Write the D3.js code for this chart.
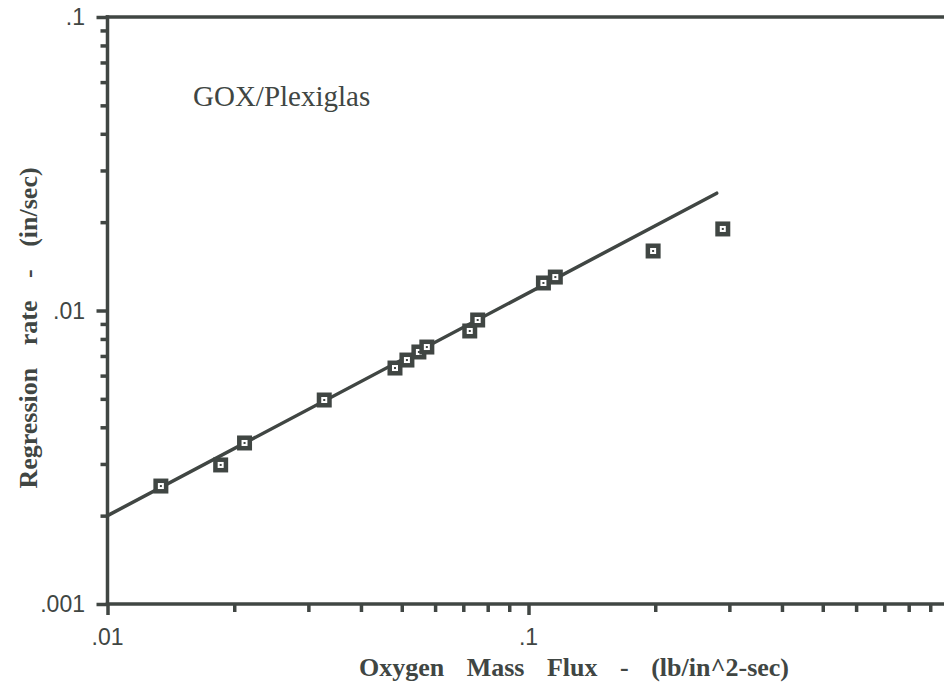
<!DOCTYPE html>
<html>
<head>
<meta charset="utf-8">
<script src="https://cdn.jsdelivr.net/npm/d3@7"></script>
<style>
  body { margin: 0; background: #fff; }
  svg { display: block; }
</style>
</head>
<body>
<svg width="944" height="691"></svg>
<script>
// GOX/Plexiglas regression rate vs oxygen mass flux (log-log)

// measured points
const massFlux = [0.01339, 0.01857, 0.02116, 0.03272, 0.04818, 0.05143, 0.05491, 0.05735,
                  0.07252, 0.07573, 0.1085, 0.1158, 0.1977, 0.2894];
const regRate  = [0.002523, 0.002977, 0.003537, 0.004955, 0.006368, 0.006780, 0.007222, 0.007508,
                  0.008516, 0.009282, 0.01241, 0.01300, 0.01595, 0.01896];
// fitted power-law line (end points)
const fitFlux = [0.01, 0.28];
const fitRate = [0.002, 0.0251];

// tick values
const xMajor = [0.01, 0.1, 1];
const xMinor = [0.02, 0.03, 0.04, 0.05, 0.06, 0.07, 0.08, 0.09, 0.2, 0.3, 0.4, 0.5, 0.6, 0.7, 0.8, 0.9];
const yMajor = [0.001, 0.01, 0.1];
const yMinor = [0.002, 0.003, 0.004, 0.005, 0.006, 0.007, 0.008, 0.009, 0.02, 0.03, 0.04, 0.05, 0.06, 0.07, 0.08, 0.09];
const xLabels = ['.01', '.1', '1'];
const yLabels = ['.001', '.01', '.1'];

const ink = '#404643';
const svg = d3.select('svg');

const x = d3.scaleLog().domain([0.01, 1]).range([107.5, 949.5]);
const y = d3.scaleLog().domain([0.001, 0.1]).range([604, 17]);

// frame: left axis, bottom axis, top line
const frame = svg.append('g')
  .attr('stroke', ink)
  .attr('stroke-width', 3.5)
  .attr('stroke-linecap', 'square');
frame.append('line').attr('x1', x(0.01)).attr('x2', x(0.01)).attr('y1', y(0.1)).attr('y2', y(0.001));
frame.append('line').attr('x1', x(0.01)).attr('x2', 944).attr('y1', y(0.001)).attr('y2', y(0.001));
frame.append('line').attr('x1', x(0.01)).attr('x2', 944).attr('y1', y(0.1)).attr('y2', y(0.1));

//ticks, minor and major
const xAxisMinor = d3.axisBottom(x).tickValues(xMinor).tickSize(8).tickFormat('');
const xAxisMajor = d3.axisBottom(x).tickValues(xMajor).tickSize(11).tickFormat('');
const yAxisMinor = d3.axisLeft(y).tickValues(yMinor).tickSize(7).tickFormat('');
const yAxisMajor = d3.axisLeft(y).tickValues(yMajor).tickSize(11).tickFormat('');

[[xAxisMinor, `translate(0,${y(0.001)})`], [xAxisMajor, `translate(0,${y(0.001)})`],
 [yAxisMinor, `translate(${x(0.01)},0)`], [yAxisMajor, `translate(${x(0.01)},0)`]].forEach(([ax, tr]) => {
  const g = svg.append('g').attr('transform', tr).call(ax);
  g.select('.domain').remove();
  g.selectAll('line').attr('stroke', ink).attr('stroke-width', 3.5);
});

// tick labels
svg.append('g').selectAll('text')
  .data(xMajor)
  .enter().append('text')
  .attr('x', d => x(d))
  .attr('y', 645)
  .attr('text-anchor', 'middle')
  .attr('font-family', '"Liberation Sans", Arial, sans-serif')
  .attr('font-size', 23)
  .attr('fill', ink)
  .text((d, i) => xLabels[i]);

svg.append('g').selectAll('text')
  .data(yMajor)
  .enter().append('text')
  .attr('x', 85)
  .attr('y', d => y(d) + 8)
  .attr('text-anchor', 'end')
  .attr('font-family', '"Liberation Sans", Arial, sans-serif')
  .attr('font-size', 23)
  .attr('fill', ink)
  .text((d, i) => yLabels[i]);

// fit line
const line = d3.line().x(d => x(d[0])).y(d => y(d[1]));
svg.append('path')
  .datum(fitFlux.map((f, i) => [f, fitRate[i]]))
  .attr('d', line)
  .attr('fill', 'none')
  .attr('stroke', ink)
  .attr('stroke-width', 3.5)
  .attr('stroke-linecap', 'round');

// square markers with white centre
const pts = svg.append('g').selectAll('g')
  .data(massFlux.map((f, i) => [f, regRate[i]]))
  .enter().append('g')
  .attr('transform', d => `translate(${x(d[0])},${y(d[1])})`);
pts.append('rect').attr('x', -7.5).attr('y', -7.5).attr('width', 15).attr('height', 15).attr('fill', ink);
pts.append('rect').attr('x', -3).attr('y', -3).attr('width', 6).attr('height', 6).attr('fill', '#fff');
pts.append('rect').attr('x', -1).attr('y', -1).attr('width', 2).attr('height', 2).attr('fill', ink);

// annotation
svg.append('text')
  .attr('x', 193).attr('y', 106)
  .attr('font-family', '"Liberation Serif", "Times New Roman", serif')
  .attr('font-size', 29)
  .attr('fill', ink)
  .text('GOX/Plexiglas');

// axis titles
svg.append('text')
  .attr('x', 574).attr('y', 676)
  .attr('text-anchor', 'middle')
  .attr('font-family', '"Liberation Serif", "Times New Roman", serif')
  .attr('font-weight', 'bold')
  .attr('font-size', 26)
  .attr('word-spacing', 16)
  .attr('fill', ink)
  .text('Oxygen Mass Flux - (lb/in^2-sec)');

svg.append('text')
  .attr('transform', 'translate(37,328) rotate(-90)')
  .attr('text-anchor', 'middle')
  .attr('font-family', '"Liberation Serif", "Times New Roman", serif')
  .attr('font-weight', 'bold')
  .attr('font-size', 26)
  .attr('word-spacing', 16)
  .attr('fill', ink)
  .text('Regression rate - (in/sec)');
</script>
</body>
</html>
